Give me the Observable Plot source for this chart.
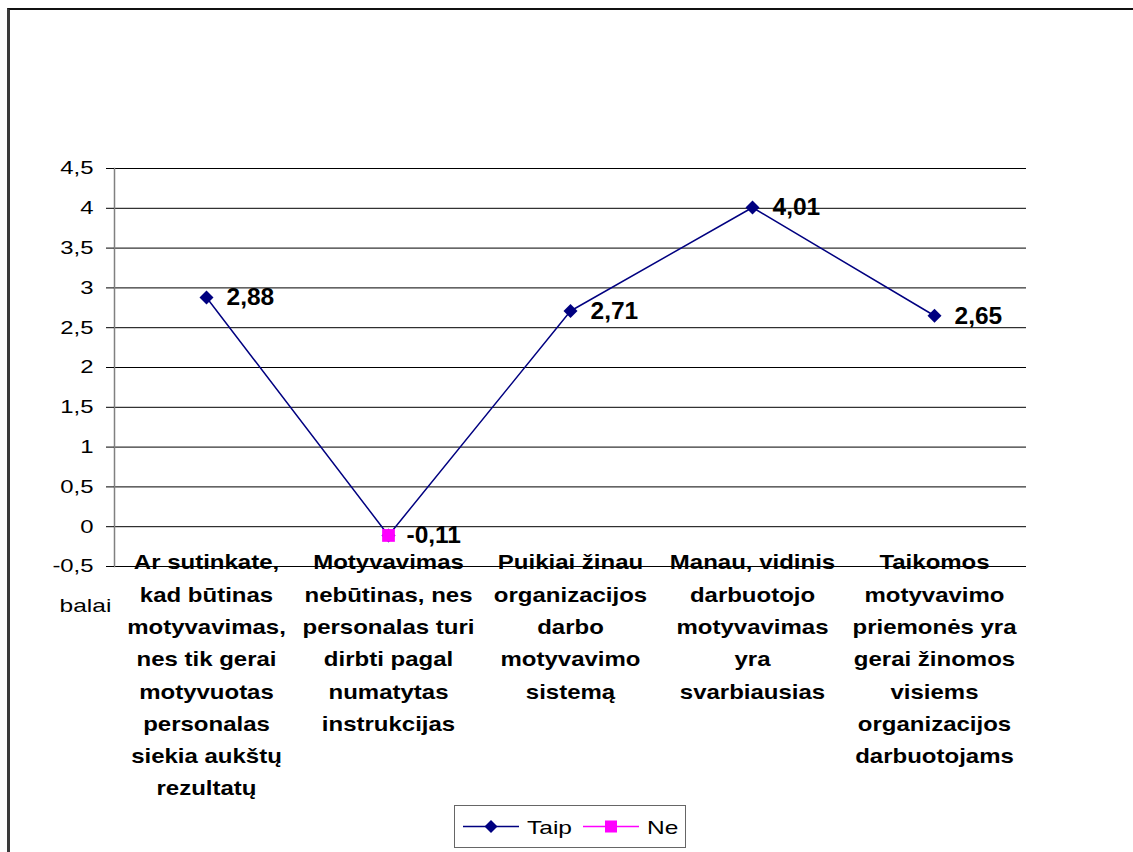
<!DOCTYPE html>
<html>
<head>
<meta charset="utf-8">
<script src="https://cdn.jsdelivr.net/npm/d3@7"></script>
<script src="https://cdn.jsdelivr.net/npm/@observablehq/plot@0.6"></script>
<style>
  html, body { margin: 0; padding: 0; background: #fff; overflow: hidden; }
  #wrap { position: relative; width: 1133px; height: 852px; font-family: "Liberation Sans", Arial, sans-serif; }
  #frame { position: absolute; left: 7px; top: 8px; width: 1200px; height: 900px;
           border-left: 3px solid #3a3a3a; border-top: 2px solid #111; box-sizing: border-box; }
  #chart { position: absolute; left: 0; top: 0; }
  #legend { position: absolute; left: 454px; top: 805px; width: 232px; height: 43px;
            border: 1px solid #666; box-sizing: border-box; background: #fff;
            display: flex; align-items: center; }
</style>
</head>
<body>
<div id="wrap">
  <div id="frame"></div>
  <div id="chart"></div>
  <div id="legend"></div>
</div>
<script>
// Survey statements (x axis), with the line breaks used on the axis
const categories = [
  "Ar sutinkate,\nkad būtinas\nmotyvavimas,\nnes tik gerai\nmotyvuotas\npersonalas\nsiekia aukštų\nrezultatų",
  "Motyvavimas\nnebūtinas, nes\npersonalas turi\ndirbti pagal\nnumatytas\ninstrukcijas",
  "Puikiai žinau\norganizacijos\ndarbo\nmotyvavimo\nsistemą",
  "Manau, vidinis\ndarbuotojo\nmotyvavimas\nyra\nsvarbiausias",
  "Taikomos\nmotyvavimo\npriemonės yra\ngerai žinomos\nvisiems\norganizacijos\ndarbuotojams"
];
// Mean scores
const taip = [2.88, -0.11, 2.71, 4.01, 2.65];
const ne = [null, -0.11, null, null, null];
const yTicks = [-0.5, 0, 0.5, 1, 1.5, 2, 2.5, 3, 3.5, 4, 4.5];
const seriesNames = ["Taip", "Ne"];
const yLabel = "balai";

const NAVY = "#000080", MAGENTA = "#ff00ff";
const comma = d => String(d).replace(".", ",");
const fmt2 = d => d.toFixed(2).replace(".", ",");

const taipData = categories.map((c, i) => ({c, v: taip[i]}));
const neData = categories.map((c, i) => ({c, v: ne[i]})).filter(d => d.v != null);
// value labels: Ne carries the label where both series meet
const taipLabels = taipData.filter((d, i) => ne[i] == null);

const chart = Plot.plot({
  width: 1133,
  height: 852,
  marginLeft: 114,
  marginRight: 107,
  marginTop: 168,
  marginBottom: 286,
  style: {fontFamily: "'Liberation Sans', Arial, sans-serif", background: "transparent", color: "#000"},
  x: {type: "point", domain: categories, padding: 0.5},
  y: {domain: [-0.5, 4.5]},
  marks: [
    Plot.gridY(yTicks, {stroke: "#000", strokeOpacity: 1, strokeWidth: 1}),
    Plot.frame({anchor: "left", stroke: "#808080", strokeWidth: 1.5}),
    Plot.axisY(yTicks, {tickSize: 8, tickPadding: 13, tickFormat: comma, fontSize: 18.5, stroke: "#000", label: null, className: "wide"}),
    Plot.axisX({tickSize: 0, tickPadding: 0, dy: -20, fontSize: 20.5, fontWeight: "bold", lineHeight: 1.575, label: null, tickFormat: d => d, className: "semi"}),
    Plot.text([yLabel], {frameAnchor: "bottom-left", dx: -29, dy: 45, fontSize: 19, textAnchor: "middle", className: "wide"}),
    Plot.line(taipData, {x: "c", y: "v", stroke: NAVY, strokeWidth: 1.5}),
    Plot.dot(taipData, {x: "c", y: "v", symbol: "diamond2", r: 6.3, fill: NAVY, stroke: "none"}),
    Plot.dot(neData, {x: "c", y: "v", symbol: "square", r: 7.2, fill: MAGENTA, stroke: "none"}),
    Plot.text(taipLabels, {x: "c", y: "v", text: d => fmt2(d.v), dx: 20, textAnchor: "start", fontSize: 24.5, fontWeight: "bold"}),
    Plot.text(neData, {x: "c", y: "v", text: d => fmt2(d.v), dx: 18, textAnchor: "start", fontSize: 24.5, fontWeight: "bold"})
  ]
});
document.getElementById("chart").appendChild(chart);

// Wide lettering: stretch text runs horizontally
function widen(root, selector, k) {
  root.querySelectorAll(selector).forEach(t => {
    const spans = t.querySelectorAll("tspan");
    const runs = spans.length ? Array.from(spans) : [t];
    runs.forEach(r => {
      const w = r.getComputedTextLength();
      if (w > 0) {
        r.setAttribute("textLength", (w * k).toFixed(1));
        r.setAttribute("lengthAdjust", "spacingAndGlyphs");
      }
    });
  });
}
widen(chart, ".wide text", 1.29);
widen(chart, ".semi text", 1.17);

// Legend
const legend = d3.select("#legend");
const sw = legend.append("svg").attr("width", 230).attr("height", 41).style("display", "block");
const items = [
  {name: seriesNames[0], color: NAVY, symbol: "diamond", x0: 8},
  {name: seriesNames[1], color: MAGENTA, symbol: "square", x0: 128}
];
items.forEach(it => {
  sw.append("line").attr("x1", it.x0).attr("x2", it.x0 + 56).attr("y1", 20.5).attr("y2", 20.5)
    .attr("stroke", it.color).attr("stroke-width", 1.5);
  const cx = it.x0 + 28;
  if (it.symbol === "diamond") {
    sw.append("path").attr("d", `M${cx},${14}L${cx + 6.5},${20.5}L${cx},${27}L${cx - 6.5},${20.5}Z`).attr("fill", it.color);
  } else {
    sw.append("rect").attr("x", cx - 6).attr("y", 14.5).attr("width", 12).attr("height", 12).attr("fill", it.color);
  }
  sw.append("text").attr("x", it.x0 + 64).attr("y", 27.5).attr("font-size", 19)
    .attr("font-family", "'Liberation Sans', Arial, sans-serif").text(it.name);
});
widen(sw.node(), "text", 1.29);
</script>
</body>
</html>
